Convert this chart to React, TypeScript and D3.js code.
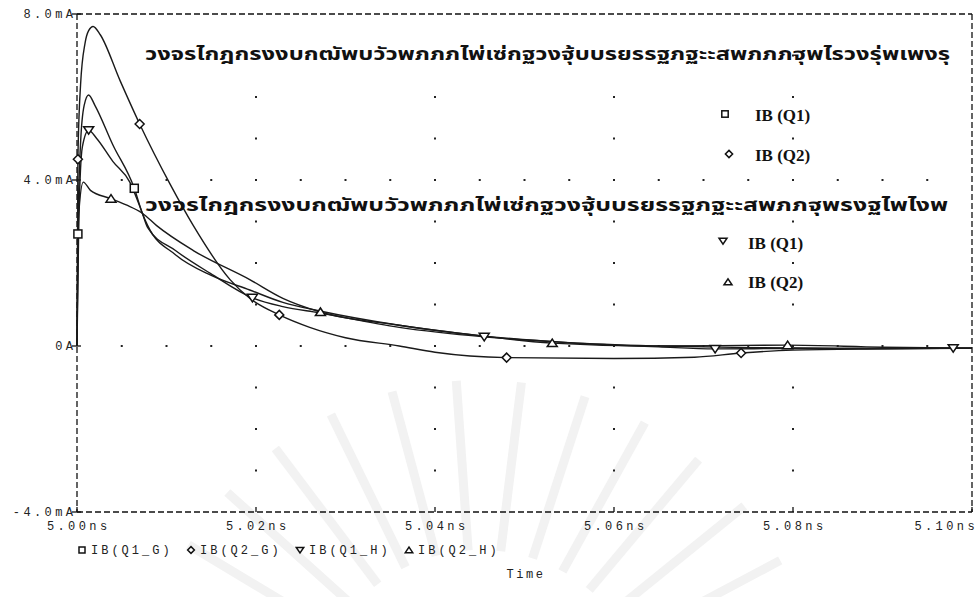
import React from "react";
import * as d3 from "d3";

// ---------- data ----------
const tQ1G = [5.0, 5.0001, 5.0004, 5.0008, 5.0013, 5.002, 5.004, 5.0064, 5.0073, 5.0079, 5.011, 5.015, 5.0193, 5.023, 5.027, 5.036, 5.045, 5.055, 5.065, 5.075, 5.085, 5.1];
const vQ1G = [0, 2.7, 4.9, 5.8, 6.05, 5.8, 4.85, 3.8, 3.2, 2.9, 2.2, 1.7, 1.35, 1.05, 0.85, 0.5, 0.25, 0.08, 0.0, -0.04, -0.05, -0.05];
const mQ1G = [5.0001, 5.0064];

const tQ2G = [5.0, 5.0001, 5.0004, 5.0009, 5.0013, 5.0018, 5.0026, 5.0048, 5.007, 5.0104, 5.013, 5.0171, 5.0193, 5.0226, 5.026, 5.03, 5.036, 5.04, 5.048, 5.06, 5.069, 5.0742, 5.08, 5.09, 5.1];
const vQ2G = [0, 4.5, 6.3, 7.3, 7.6, 7.7, 7.5, 6.4, 5.35, 3.9, 2.9, 1.6, 1.15, 0.75, 0.45, 0.2, 0.0, -0.15, -0.28, -0.3, -0.27, -0.17, -0.1, -0.07, -0.05];
const mQ2G = [5.0001, 5.007, 5.0226, 5.048, 5.0742];

const tQ1H = [5.0, 5.0002, 5.0006, 5.0013, 5.0022, 5.004, 5.0059, 5.0073, 5.0079, 5.011, 5.0149, 5.0196, 5.023, 5.027, 5.036, 5.0455, 5.055, 5.065, 5.0713, 5.08, 5.09, 5.1];
const vQ1H = [0, 3.0, 4.8, 5.2, 5.0, 4.45, 3.95, 3.2, 2.85, 2.3, 1.75, 1.16, 0.95, 0.8, 0.45, 0.22, 0.08, -0.02, -0.07, -0.06, -0.07, -0.05];
const mQ1H = [5.0013, 5.0196, 5.0455, 5.0713, 5.0979];

const tQ2H = [5.0, 5.0002, 5.0007, 5.0015, 5.0038, 5.0055, 5.0073, 5.0089, 5.013, 5.0193, 5.023, 5.0272, 5.036, 5.045, 5.0531, 5.064, 5.0794, 5.09, 5.1];
const vQ2H = [0, 3.2, 3.95, 3.75, 3.55, 3.4, 3.2, 2.9, 2.3, 1.6, 1.15, 0.82, 0.5, 0.25, 0.07, 0.0, 0.02, -0.03, -0.05];
const mQ2H = [5.0038, 5.0272, 5.0531, 5.0794];

const seriesNames = ["IB(Q1_G)", "IB(Q2_G)", "IB(Q1_H)", "IB(Q2_H)"];
const yTicks = [8, 4, 0, -4];
const yTickLabels = ["8.0mA", "4.0mA", "0A", "-4.0mA"];
const xTicks = [5.0, 5.02, 5.04, 5.06, 5.08, 5.1];
const xTickLabels = ["5.00ns", "5.02ns", "5.04ns", "5.06ns", "5.08ns", "5.10ns"];
const gridRows = [4, 0];
const gridCols = [5.02, 5.04, 5.06, 5.08];
const inPlotLegend = ["IB (Q1)", "IB (Q2)", "IB (Q1)", "IB (Q2)"];
const xTitle = "Time";
const thaiLine1 = "วงจรไกฎกรงงบกฒัพบวัวพภภภไพ่เซ่กฐวงฐุ้บบรยรรฐภฐะะสพภภภฐุพไรวงรุ่พเพงรุ";
const thaiLine2 = "วงจรไกฎกรงงบกฒัพบวัวพภภภไพ่เซ่กฐวงฐุ้บบรยรรฐภฐะะสพภภฐุพรงฐไพไงพ";

const W = 978;
const H = 597;

type Shape = "square" | "diamond" | "down" | "up";

function Marker({ cx, cy, shape, s = 1 }: { cx: number; cy: number; shape: Shape; s?: number }) {
  const common = { fill: "white", stroke: "#111", strokeWidth: 1.5 };
  if (shape === "square") return <rect x={cx - 4 * s} y={cy - 4 * s} width={8 * s} height={8 * s} {...common} />;
  if (shape === "diamond")
    return <path d={`M${cx},${cy - 4.5 * s}L${cx + 4.5 * s},${cy}L${cx},${cy + 4.5 * s}L${cx - 4.5 * s},${cy}Z`} {...common} />;
  if (shape === "down")
    return <path d={`M${cx - 5 * s},${cy - 3.5 * s}L${cx + 5 * s},${cy - 3.5 * s}L${cx},${cy + 4 * s}Z`} {...common} />;
  return <path d={`M${cx - 5 * s},${cy + 3.5 * s}L${cx + 5 * s},${cy + 3.5 * s}L${cx},${cy - 4 * s}Z`} {...common} />;
}

export default function App() {
  const L = 77, R = 972, T = 14, B = 512;
  const x = d3.scaleLinear().domain([5.0, 5.1]).range([L, R]);
  const y = d3.scaleLinear().domain([-4, 8]).range([B, T]);

  const series = [
    { t: tQ1G, v: vQ1G, m: mQ1G, shape: "square" as Shape },
    { t: tQ2G, v: vQ2G, m: mQ2G, shape: "diamond" as Shape },
    { t: tQ1H, v: vQ1H, m: mQ1H, shape: "down" as Shape },
    { t: tQ2H, v: vQ2H, m: mQ2H, shape: "up" as Shape },
  ];

  const line = d3
    .line<[number, number]>()
    .x((d) => x(d[0]))
    .y((d) => y(d[1]))
    .curve(d3.curveMonotoneX);

  const mono = "'Liberation Mono', 'DejaVu Sans Mono', monospace";

  const dots: [number, number][] = [];
  gridRows.forEach((r) => {
    d3.range(5.005, 5.1 - 1e-9, 0.005).forEach((t) => dots.push([x(t), y(r)]));
  });
  gridCols.forEach((c) => {
    d3.range(-3, 8, 1).forEach((v) => dots.push([x(c), y(v)]));
  });

  const rays = d3.range(-160, -15, 11);

  return (
    <svg
      width={W}
      height={H}
      style={{ position: "fixed", left: 0, top: 0, background: "white" }}
      xmlns="http://www.w3.org/2000/svg"
    >
      <rect x={0} y={0} width={W} height={H} fill="white" />
      <g stroke="#f2f2f2" strokeWidth={9} fill="none">
        {rays.map((a, i) => {
          const rad = (a * Math.PI) / 180;
          const cx = 480, cy = 720;
          return (
            <line key={i} x1={cx + 170 * Math.cos(rad)} y1={cy + 170 * Math.sin(rad)} x2={cx + 340 * Math.cos(rad)} y2={cy + 340 * Math.sin(rad)} />
          );
        })}
      </g>

      <g fill="#222">
        {dots.map((d, i) => (
          <rect key={i} x={d[0] - 1} y={d[1] - 1} width={2} height={2} />
        ))}
      </g>

      <g stroke="#111" strokeWidth={1.3} strokeDasharray="6,3" fill="none">
        <line x1={L} y1={T} x2={R} y2={T} />
        <line x1={L} y1={B} x2={R} y2={B} />
        <line x1={L} y1={T} x2={L} y2={B} />
        <line x1={R} y1={T} x2={R} y2={B} />
      </g>
      <g stroke="#111" strokeWidth={1.3}>
        {yTicks.map((v) => (
          <line key={v} x1={L - 5} x2={L + 4} y1={y(v)} y2={y(v)} />
        ))}
        {xTicks.map((t) => (
          <line key={t} x1={x(t)} x2={x(t)} y1={B} y2={B - 5} />
        ))}
      </g>

      <g fill="none" stroke="#1a1a1a" strokeWidth={1.4}>
        {series.map((s, i) => (
          <path key={i} d={line(s.t.map((t, j) => [t, s.v[j]] as [number, number])) || ""} />
        ))}
      </g>
      {series.map((s, i) => {
        const interp = d3.scaleLinear().domain(s.t).range(s.v);
        return (
          <g key={i}>
            {s.m.map((t, j) => (
              <Marker key={j} cx={x(t)} cy={y(interp(t))} shape={s.shape} />
            ))}
          </g>
        );
      })}

      <g fontFamily="'Noto Sans Thai', 'Loma', 'Garuda', 'Tlwg Typo', sans-serif" fontWeight="bold" fontSize={17} fill="#111">
        <text x={145} y={60} textLength={805} lengthAdjust="spacingAndGlyphs">{thaiLine1}</text>
        <text x={145} y={211} textLength={803} lengthAdjust="spacingAndGlyphs">{thaiLine2}</text>
      </g>

      <g fontFamily="'Liberation Serif', 'DejaVu Serif', serif" fontWeight="bold" fontSize={17} fill="#111">
        {[
          { mx: 725, my: 114, tx: 755, ty: 121, shape: "square" as Shape },
          { mx: 729, my: 154, tx: 755, ty: 161, shape: "diamond" as Shape },
          { mx: 723, my: 241, tx: 748, ty: 249, shape: "down" as Shape },
          { mx: 728, my: 282, tx: 748, ty: 288, shape: "up" as Shape },
        ].map((p, i) => (
          <g key={i}>
            <Marker cx={p.mx} cy={p.my} shape={p.shape} s={0.8} />
            <text x={p.tx} y={p.ty}>{inPlotLegend[i]}</text>
          </g>
        ))}
      </g>

      <g fontFamily={mono} fontSize={12} fill="#222" letterSpacing={3.4}>
        {yTicks.map((v, i) => (
          <text key={v} x={L - 4 + 3.4} y={y(v) + 4} textAnchor="end">{yTickLabels[i]}</text>
        ))}
        {xTicks.map((t, i) => (
          <text key={t} x={i === xTicks.length - 1 ? 978 : x(t) + 1.7} y={530} textAnchor={i === xTicks.length - 1 ? "end" : "middle"}>
            {xTickLabels[i]}
          </text>
        ))}
        {seriesNames.map((n, i) => (
          <g key={n}>
            <Marker cx={82 + i * 109} cy={550} shape={series[i].shape} s={0.75} />
            <text x={91 + i * 109} y={554} letterSpacing={3}>{n}</text>
          </g>
        ))}
        <text x={526} y={578} textAnchor="middle" fontSize={12} letterSpacing={2.5}>{xTitle}</text>
      </g>
    </svg>
  );
}
